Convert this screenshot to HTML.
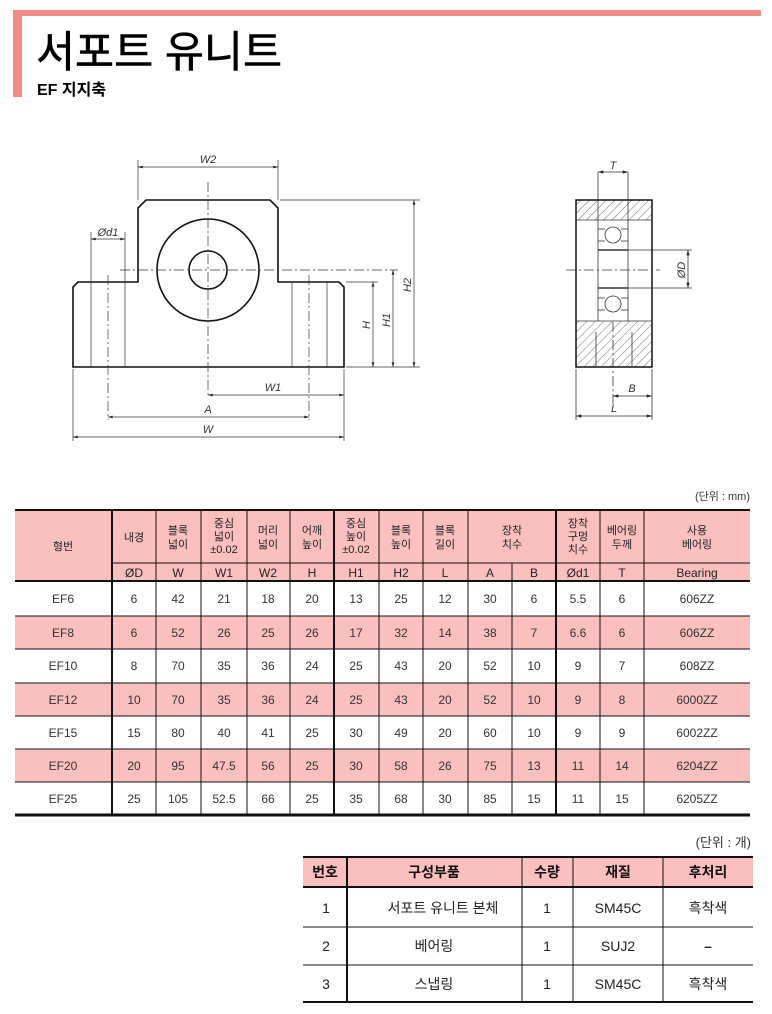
<!DOCTYPE html>
<html><head><meta charset="utf-8"><style>
html,body{margin:0;padding:0;background:#fff}
svg{display:block}
text{font-family:"Liberation Sans","Noto Sans CJK KR",sans-serif}
</style></head><body>
<svg width="772" height="1014" viewBox="0 0 772 1014" xmlns="http://www.w3.org/2000/svg">
<defs>
<pattern id="h" width="6" height="6" patternUnits="userSpaceOnUse" patternTransform="rotate(45)">
<line x1="0" y1="0" x2="0" y2="6" stroke="#333" stroke-width="0.7"/></pattern>
<marker id="a" viewBox="0 0 10 6" refX="10" refY="3" markerWidth="8" markerHeight="4" orient="auto-start-reverse"><path d="M0,0L10,3L0,6z" fill="#222"/></marker>
</defs>
<!-- header -->
<rect x="13" y="10" width="748" height="6" fill="#f28b87"/>
<rect x="13" y="10" width="9" height="87" fill="#f28b87"/>
<text x="36" y="67" font-size="43" fill="#000" stroke="#000" stroke-width="0.6" textLength="246" lengthAdjust="spacingAndGlyphs">서포트 유니트</text>
<text x="37" y="95" font-size="16" font-weight="bold" fill="#000">EF 지지축</text>

<!-- front view -->
<g fill="none" stroke="#111" stroke-width="1.6">
<path d="M73,367 L73,287 L78,282 L138,282 L138,208 L146,200 L270,200 L278,208 L278,282 L339,282 L344,287 L344,367 Z"/>
<circle cx="208" cy="270" r="51"/>
<circle cx="208" cy="270" r="19"/>
</g>
<g stroke="#333" stroke-width="0.7" fill="none">
<line x1="91" y1="282" x2="91" y2="367"/><line x1="125" y1="282" x2="125" y2="367"/>
<line x1="292" y1="282" x2="292" y2="367"/><line x1="327" y1="282" x2="327" y2="367"/>
<g stroke-dasharray="10,3,2,3">
<line x1="208" y1="182" x2="208" y2="398"/>
<line x1="120" y1="270" x2="398" y2="270"/>
<line x1="108" y1="275" x2="108" y2="420"/>
<line x1="309" y1="275" x2="309" y2="420"/>
</g>
<line x1="138" y1="160" x2="138" y2="200"/><line x1="278" y1="160" x2="278" y2="200"/>
<line x1="91" y1="232" x2="91" y2="282"/><line x1="125" y1="232" x2="125" y2="282"/>
<line x1="280" y1="200" x2="420" y2="200"/>
<line x1="346" y1="282" x2="378" y2="282"/>
<line x1="346" y1="367" x2="420" y2="367"/>
<line x1="73" y1="369" x2="73" y2="441"/><line x1="344" y1="369" x2="344" y2="441"/>
<line x1="138" y1="167" x2="278" y2="167" marker-start="url(#a)" marker-end="url(#a)"/>
<line x1="91" y1="239" x2="125" y2="239" marker-start="url(#a)" marker-end="url(#a)"/>
<line x1="373" y1="282" x2="373" y2="367" marker-start="url(#a)" marker-end="url(#a)"/>
<line x1="393" y1="270" x2="393" y2="367" marker-start="url(#a)" marker-end="url(#a)"/>
<line x1="414" y1="200" x2="414" y2="367" marker-start="url(#a)" marker-end="url(#a)"/>
<line x1="208" y1="395" x2="344" y2="395" marker-start="url(#a)" marker-end="url(#a)"/>
<line x1="108" y1="417" x2="309" y2="417" marker-start="url(#a)" marker-end="url(#a)"/>
<line x1="73" y1="437" x2="344" y2="437" marker-start="url(#a)" marker-end="url(#a)"/>
</g>
<g font-size="11" font-style="italic" fill="#333" text-anchor="middle">
<text x="208" y="163">W2</text>
<text x="108" y="236">Ød1</text>
<text x="273" y="391">W1</text>
<text x="208" y="413">A</text>
<text x="208" y="433">W</text>
<text transform="translate(370,325) rotate(-90)">H</text>
<text transform="translate(390,320) rotate(-90)">H1</text>
<text transform="translate(411,285) rotate(-90)">H2</text>
<text transform="translate(685,270) rotate(-90)">ØD</text>
<text x="613" y="169">T</text>
<text x="632" y="392">B</text>
<text x="614" y="412">L</text>
</g>

<!-- side view -->
<rect x="576" y="200" width="76" height="20" fill="url(#h)"/>
<rect x="576" y="321" width="76" height="46" fill="url(#h)"/>
<g fill="none" stroke="#111" stroke-width="1.5">
<rect x="576" y="200" width="76" height="167"/>
</g>
<g fill="none" stroke="#333" stroke-width="0.8">
<line x1="576" y1="220" x2="652" y2="220"/>
<line x1="576" y1="321" x2="652" y2="321"/>
<line x1="598" y1="172" x2="598" y2="321"/><line x1="628" y1="172" x2="628" y2="321"/>
<line x1="598" y1="250" x2="628" y2="250" stroke-width="1.4"/>
<line x1="598" y1="288" x2="628" y2="288" stroke-width="1.4"/>
<circle cx="613" cy="235" r="8"/><circle cx="613" cy="304" r="8"/>
<line x1="598" y1="229" x2="605" y2="229"/><line x1="621" y1="229" x2="628" y2="229"/>
<line x1="598" y1="241" x2="605" y2="241"/><line x1="621" y1="241" x2="628" y2="241"/>
<line x1="598" y1="298" x2="605" y2="298"/><line x1="621" y1="298" x2="628" y2="298"/>
<line x1="598" y1="310" x2="605" y2="310"/><line x1="621" y1="310" x2="628" y2="310"/>
<line x1="596" y1="332" x2="596" y2="367"/><line x1="632" y1="332" x2="632" y2="367"/>
<line x1="628" y1="250" x2="692" y2="250"/><line x1="628" y1="288" x2="692" y2="288"/>
<line x1="576" y1="369" x2="576" y2="420"/><line x1="652" y1="369" x2="652" y2="420"/>
<g stroke-dasharray="10,3,2,3">
<line x1="566" y1="270" x2="660" y2="270"/>
<line x1="613" y1="322" x2="613" y2="407"/>
</g>
<line x1="598" y1="172" x2="628" y2="172" marker-start="url(#a)" marker-end="url(#a)"/>
<line x1="688" y1="250" x2="688" y2="288" marker-start="url(#a)" marker-end="url(#a)"/>
<line x1="613" y1="396" x2="652" y2="396" marker-start="url(#a)" marker-end="url(#a)"/>
<line x1="576" y1="416" x2="652" y2="416" marker-start="url(#a)" marker-end="url(#a)"/>
</g>

<!-- main table -->
<text x="750" y="500" font-size="11" fill="#333" text-anchor="end">(단위 : mm)</text>
<rect x="15" y="510" width="735" height="71" fill="#f9c0bd"/>
<rect x="15" y="616" width="735" height="33" fill="#f9c0bd"/>
<rect x="15" y="683" width="735" height="33" fill="#f9c0bd"/>
<rect x="15" y="749" width="735" height="33" fill="#f9c0bd"/>
<g stroke="#111" stroke-width="1">
<line x1="112" y1="563" x2="750" y2="563"/>
<line x1="15" y1="616" x2="750" y2="616"/><line x1="15" y1="649" x2="750" y2="649"/>
<line x1="15" y1="683" x2="750" y2="683"/><line x1="15" y1="716" x2="750" y2="716"/>
<line x1="15" y1="749" x2="750" y2="749"/><line x1="15" y1="782" x2="750" y2="782"/>
<line x1="156" y1="510" x2="156" y2="815"/><line x1="201" y1="510" x2="201" y2="815"/>
<line x1="247" y1="510" x2="247" y2="815"/><line x1="290" y1="510" x2="290" y2="815"/>
<line x1="379" y1="510" x2="379" y2="815"/><line x1="423" y1="510" x2="423" y2="815"/>
<line x1="468" y1="510" x2="468" y2="815"/><line x1="512" y1="563" x2="512" y2="815"/>
<line x1="600" y1="510" x2="600" y2="815"/><line x1="644" y1="510" x2="644" y2="815"/>
</g>
<g stroke="#111" stroke-width="2">
<line x1="15" y1="510" x2="750" y2="510"/><line x1="15" y1="581" x2="750" y2="581"/>
<line x1="112" y1="510" x2="112" y2="815"/><line x1="334" y1="510" x2="334" y2="815"/>
<line x1="556" y1="510" x2="556" y2="815"/>
</g>
<line x1="15" y1="815" x2="750" y2="815" stroke="#111" stroke-width="3"/>
<g font-size="11" fill="#222" text-anchor="middle">
<text x="63" y="550">형번</text>
<text x="134" y="541">내경</text>
<text x="178" y="534">블록</text><text x="178" y="548">넓이</text>
<text x="224" y="527">중심</text><text x="224" y="540">넓이</text><text x="224" y="553">±0.02</text>
<text x="268" y="534">머리</text><text x="268" y="548">넓이</text>
<text x="312" y="534">어깨</text><text x="312" y="548">높이</text>
<text x="356" y="527">중심</text><text x="356" y="540">높이</text><text x="356" y="553">±0.02</text>
<text x="401" y="534">블록</text><text x="401" y="548">높이</text>
<text x="445" y="534">블록</text><text x="445" y="548">길이</text>
<text x="512" y="534">장착</text><text x="512" y="548">치수</text>
<text x="578" y="527">장착</text><text x="578" y="540">구멍</text><text x="578" y="553">치수</text>
<text x="622" y="534">베어링</text><text x="622" y="548">두께</text>
<text x="697" y="534">사용</text><text x="697" y="548">베어링</text>
</g>
<g font-size="12" fill="#222" text-anchor="middle">
<text x="134" y="577">ØD</text><text x="178" y="577">W</text><text x="224" y="577">W1</text>
<text x="268" y="577">W2</text><text x="312" y="577">H</text><text x="356" y="577">H1</text>
<text x="401" y="577">H2</text><text x="445" y="577">L</text><text x="490" y="577">A</text>
<text x="534" y="577">B</text><text x="578" y="577">Ød1</text><text x="622" y="577">T</text>
<text x="697" y="577">Bearing</text>
</g>
<g font-size="12" fill="#333" text-anchor="middle">
<g transform="translate(0,603)"><text x="63">EF6</text><text x="134">6</text><text x="178">42</text><text x="224">21</text><text x="268">18</text><text x="312">20</text><text x="356">13</text><text x="401">25</text><text x="445">12</text><text x="490">30</text><text x="534">6</text><text x="578">5.5</text><text x="622">6</text><text x="697">606ZZ</text></g>
<g transform="translate(0,637)"><text x="63">EF8</text><text x="134">6</text><text x="178">52</text><text x="224">26</text><text x="268">25</text><text x="312">26</text><text x="356">17</text><text x="401">32</text><text x="445">14</text><text x="490">38</text><text x="534">7</text><text x="578">6.6</text><text x="622">6</text><text x="697">606ZZ</text></g>
<g transform="translate(0,670)"><text x="63">EF10</text><text x="134">8</text><text x="178">70</text><text x="224">35</text><text x="268">36</text><text x="312">24</text><text x="356">25</text><text x="401">43</text><text x="445">20</text><text x="490">52</text><text x="534">10</text><text x="578">9</text><text x="622">7</text><text x="697">608ZZ</text></g>
<g transform="translate(0,704)"><text x="63">EF12</text><text x="134">10</text><text x="178">70</text><text x="224">35</text><text x="268">36</text><text x="312">24</text><text x="356">25</text><text x="401">43</text><text x="445">20</text><text x="490">52</text><text x="534">10</text><text x="578">9</text><text x="622">8</text><text x="697">6000ZZ</text></g>
<g transform="translate(0,737)"><text x="63">EF15</text><text x="134">15</text><text x="178">80</text><text x="224">40</text><text x="268">41</text><text x="312">25</text><text x="356">30</text><text x="401">49</text><text x="445">20</text><text x="490">60</text><text x="534">10</text><text x="578">9</text><text x="622">9</text><text x="697">6002ZZ</text></g>
<g transform="translate(0,770)"><text x="63">EF20</text><text x="134">20</text><text x="178">95</text><text x="224">47.5</text><text x="268">56</text><text x="312">25</text><text x="356">30</text><text x="401">58</text><text x="445">26</text><text x="490">75</text><text x="534">13</text><text x="578">11</text><text x="622">14</text><text x="697">6204ZZ</text></g>
<g transform="translate(0,803)"><text x="63">EF25</text><text x="134">25</text><text x="178">105</text><text x="224">52.5</text><text x="268">66</text><text x="312">25</text><text x="356">35</text><text x="401">68</text><text x="445">30</text><text x="490">85</text><text x="534">15</text><text x="578">11</text><text x="622">15</text><text x="697">6205ZZ</text></g>
</g>

<!-- parts table -->
<text x="751" y="847" font-size="13" fill="#333" text-anchor="end">(단위 : 개)</text>
<rect x="303" y="857" width="450" height="30" fill="#f9c0bd"/>
<g stroke="#111" stroke-width="1">
<line x1="303" y1="927" x2="753" y2="927"/><line x1="303" y1="965" x2="753" y2="965"/>
<line x1="522" y1="857" x2="522" y2="1002"/><line x1="573" y1="857" x2="573" y2="1002"/>
<line x1="663" y1="857" x2="663" y2="1002"/>
</g>
<g stroke="#111" stroke-width="2">
<line x1="303" y1="857" x2="753" y2="857"/><line x1="303" y1="887" x2="753" y2="887"/>
<line x1="347" y1="857" x2="347" y2="1002"/><line x1="303" y1="1002" x2="753" y2="1002"/>
</g>
<g font-size="14" fill="#111" text-anchor="middle" font-weight="bold">
<text x="325" y="877">번호</text><text x="434" y="877">구성부품</text><text x="547" y="877">수량</text>
<text x="618" y="877">재질</text><text x="708" y="877">후처리</text>
</g>
<g font-size="14" fill="#222" text-anchor="middle">
<text x="326" y="913">1</text><text x="443" y="913">서포트 유니트 본체</text><text x="547" y="913">1</text><text x="618" y="913">SM45C</text><text x="708" y="913">흑착색</text>
<text x="326" y="951">2</text><text x="434" y="951">베어링</text><text x="547" y="951">1</text><text x="618" y="951">SUJ2</text><text x="708" y="951" font-weight="bold">–</text>
<text x="326" y="989">3</text><text x="434" y="989">스냅링</text><text x="547" y="989">1</text><text x="618" y="989">SM45C</text><text x="708" y="989">흑착색</text>
</g>
</svg>
</body></html>
